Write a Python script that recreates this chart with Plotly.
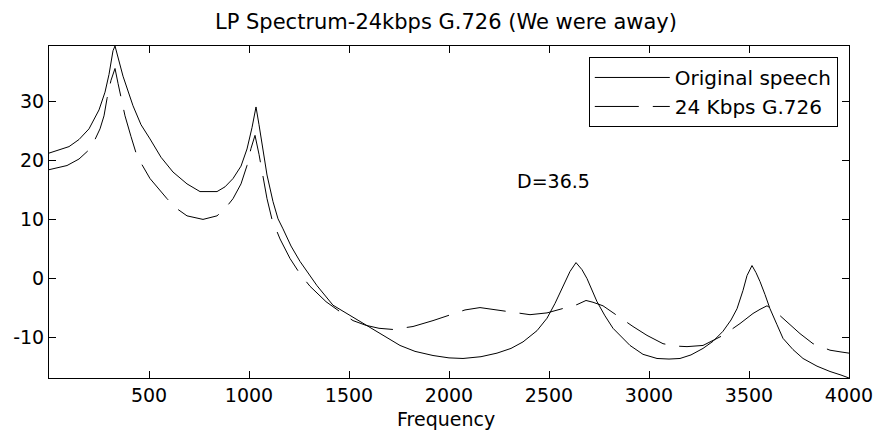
import plotly.graph_objects as go

title_text = "LP Spectrum-24kbps G.726 (We were away)"
x_title = "Frequency"
series_names = ["Original speech", "24 Kbps G.726"]
annotation_text = "D=36.5"
annotation_pos = [2520, 16.5]

x_ticks = [500, 1000, 1500, 2000, 2500, 3000, 3500, 4000]
y_ticks = [-10, 0, 10, 20, 30]

orig_freq = [0, 100, 150, 200, 250, 280, 300, 320, 330, 345, 370, 420, 460, 505, 560, 620, 690,
             755, 840, 880, 920, 960, 990, 1015, 1035, 1050, 1070, 1090, 1120, 1145, 1170, 1210,
             1255, 1300, 1340, 1420, 1505, 1590, 1680, 1755, 1830, 1920, 2000, 2070, 2160, 2240,
             2310, 2370, 2440, 2490, 2530, 2570, 2605, 2635, 2665, 2690, 2740, 2780, 2820, 2905,
             2970, 3040, 3100, 3155, 3210, 3270, 3320, 3370, 3410, 3440, 3470, 3490, 3515, 3535,
             3555, 3580, 3605, 3640, 3670, 3720, 3770, 3840, 3905, 3960, 4000]
orig_db = [21.2, 22.3, 23.5, 25.3, 28.5, 31.5, 34.5, 38.5, 39.3, 37.5, 34.2, 29.2, 26.0, 23.6, 20.5,
           18.0, 16.0, 14.7, 14.7, 15.5, 16.9, 19.0, 21.9, 25.5, 29.0, 26.0, 21.5, 17.5, 13.0, 10.1,
           8.4, 5.5, 2.9, 0.8, -1.2, -4.5, -6.2, -7.9, -9.8, -11.3, -12.3, -13.0, -13.4, -13.5, -13.2,
           -12.6, -11.8, -10.7, -8.8, -6.7, -4.2, -1.2, 1.2, 2.7, 1.5, 0.0, -3.9, -6.3, -8.4, -11.3,
           -12.8, -13.5, -13.6, -13.5, -12.9, -11.8, -10.6, -8.9, -7.0, -5.1, -2.0, 0.5, 2.2, 1.0,
           -0.5, -2.7, -5.1, -7.8, -10.1, -12.0, -13.5, -14.8, -15.7, -16.3, -16.8]

g726_freq = [0, 90, 150, 195, 230, 255, 275, 290, 310, 330, 345, 360, 380, 410, 440, 505, 590, 640,
             690, 770, 840, 880, 920, 960, 990, 1010, 1030, 1050, 1070, 1090, 1115, 1155, 1205, 1255,
             1305, 1385, 1455, 1520, 1585, 1650, 1720, 1820, 1920, 2005, 2080, 2155, 2270, 2405, 2490,
             2570, 2640, 2685, 2720, 2770, 2850, 2920, 2990, 3070, 3130, 3190, 3270, 3320, 3370, 3455,
             3520, 3555, 3590, 3630, 3670, 3755, 3820, 3905, 3960, 4000]
g726_db = [18.4, 19.1, 20.2, 21.6, 23.5, 25.3, 27.5, 30.4, 33.5, 35.5, 33.0, 30.5, 27.5, 24.0, 20.7,
           16.9, 13.5, 11.8, 10.6, 10.0, 10.6, 11.8, 13.5, 16.0, 19.1, 22.0, 24.2, 21.0, 17.0, 13.5,
           10.0, 6.7, 3.4, 0.8, -1.3, -3.9, -5.6, -7.1, -7.9, -8.4, -8.6, -8.1, -7.1, -6.2, -5.3, -4.9,
           -5.4, -6.1, -5.8, -5.1, -4.4, -3.7, -4.0, -4.6, -6.5, -8.1, -9.6, -11.0, -11.4, -11.5,
           -11.3, -10.5, -9.6, -7.6, -5.9, -5.2, -4.6, -5.5, -6.7, -9.3, -11.0, -12.1, -12.4, -12.6]

FONT = "DejaVu Sans, Verdana, sans-serif"

fig = go.Figure()
fig.add_trace(go.Scatter(x=orig_freq, y=orig_db, mode="lines", name=series_names[0],
                         line=dict(color="black", width=1)))
fig.add_trace(go.Scatter(x=g726_freq, y=g726_db, mode="lines", name=series_names[1],
                         line=dict(color="black", width=1, dash="44px,14px")))

fig.add_annotation(x=annotation_pos[0], y=annotation_pos[1], text=annotation_text, showarrow=False,
                   font=dict(family=FONT, size=19, color="black"))
fig.add_annotation(xref="paper", yref="paper", x=0.496, y=1.072, text=title_text, showarrow=False,
                   xanchor="center", yanchor="middle", font=dict(family=FONT, size=21, color="black"))
fig.add_annotation(xref="paper", yref="paper", x=0.496, y=-0.122, text=x_title, showarrow=False,
                   xanchor="center", yanchor="middle", font=dict(family=FONT, size=19, color="black"))

axis_common = dict(showline=True, linecolor="black", linewidth=1, mirror="ticks", ticks="inside",
                   ticklen=7, tickcolor="black", showgrid=False, zeroline=False, automargin=False,
                   tickfont=dict(family=FONT, size=19, color="black"))

fig.update_layout(
    template="none",
    width=876, height=430,
    margin=dict(l=49, r=27, t=46, b=52, autoexpand=False),
    paper_bgcolor="white", plot_bgcolor="white",
    xaxis=dict(range=[0, 4000], tickvals=x_ticks, ticktext=[str(v) for v in x_ticks], **axis_common),
    yaxis=dict(range=[-16.8, 39.3], tickvals=y_ticks, ticktext=[str(v) for v in y_ticks],
               **axis_common),
    legend=dict(x=0.986, y=0.967, xanchor="right", yanchor="top", bgcolor="white",
                bordercolor="black", borderwidth=1, itemwidth=75,
                font=dict(family=FONT, size=20, color="black"), tracegroupgap=0),
    showlegend=True,
)

fig.write_html("out.html", config={"displayModeBar": False},
               post_script="document.body.style.margin='0';document.body.style.overflow='hidden';")
